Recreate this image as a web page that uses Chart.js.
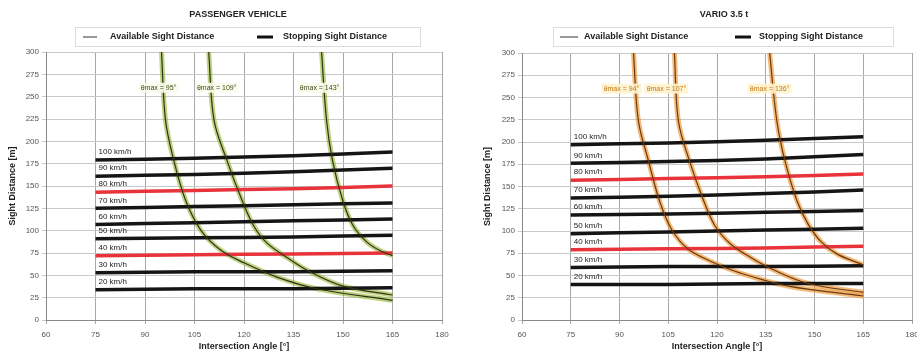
<!DOCTYPE html>
<html>
<head>
<meta charset="utf-8">
<script src="https://cdn.jsdelivr.net/npm/chart.js@4.4.0/dist/chart.umd.min.js"></script>
<style>
  html, body { margin: 0; padding: 0; background: #fff; overflow: hidden; width: 917px; height: 355px; }
  #w1 { position: absolute; left: 0; top: 0; width: 458px; height: 355px; }
  #w2 { position: absolute; left: 458px; top: 0; width: 470px; height: 355px; }
</style>
</head>
<body>
<div id="w1"><canvas id="c1"></canvas></div>
<div id="w2"><canvas id="c2"></canvas></div>
<script>
// ---- data ----
const angleMin = 60, angleMax = 180, angleStep = 15;
const distMin = 0, distMax = 300, distStep = 25;

const speedLabels = ['100 km/h', '90 km/h', '80 km/h', '70 km/h', '60 km/h', '50 km/h', '40 km/h', '30 km/h', '20 km/h'];
const redSpeeds = ['80 km/h', '40 km/h'];
const ssdAngles = [75, 105, 135, 165];

// passenger vehicle: stopping sight distance per speed (m) at ssdAngles
const pvStopping = [
  [179, 181, 184, 188],
  [161, 163, 166, 170],
  [143, 145, 147, 150],
  [125, 127, 129, 131],
  [107, 109, 111, 113],
  [91, 92, 93, 95],
  [72, 73, 74, 75],
  [53, 54, 54, 55],
  [34, 35, 35, 36]
];
// passenger vehicle: available sight distance curves
const pvAvailAngles = [
  [95, 96.2, 98.7, 102.3, 107, 113, 120, 130, 142, 165],
  [109.3, 110.9, 114.8, 119.4, 123, 127, 133, 140, 150, 165],
  [143.5, 145, 146.8, 149.9, 153, 157, 161, 165]
];
const pvAvail = [
  [300, 224, 179, 134, 100, 78, 64, 48, 35, 22],
  [300, 224, 179, 134, 105, 86, 70, 54, 38, 28],
  [300, 224, 179, 134, 106, 88, 78, 72]
];
const pvAvailLabels = ['θmax = 95°', 'θmax = 109°', 'θmax = 143°'];

// Vario 3.5 t: stopping sight distance
const trStopping = [
  [197, 199, 202, 206],
  [176, 178, 181, 186],
  [157, 159, 161, 164],
  [137, 139, 142, 146],
  [118, 119, 121, 123],
  [97, 99, 101, 103],
  [79, 80, 81, 83],
  [59, 60, 60, 61],
  [40, 40, 41, 41]
];
const trAvailAngles = [
  [94.3, 95.8, 98.9, 102.3, 106, 111, 118, 127, 142, 165],
  [106.9, 108.1, 111.5, 115.9, 119.5, 124, 130, 137, 148, 165],
  [136.2, 138.4, 140.9, 144.6, 148, 152, 157, 165]
];
const trAvail = [
  [300, 224, 179, 134, 102, 80, 66, 53, 38, 27],
  [300, 224, 179, 134, 105, 86, 71, 57, 41, 31],
  [300, 224, 179, 134, 108, 88, 74, 62]
];
const trAvailLabels = ['θmax = 94°', 'θmax = 107°', 'θmax = 136°'];
const availLabelDist = 260;

const FONT = '"Liberation Sans", Arial, sans-serif';

// title + legend header
const headerPlugin = {
  id: 'header',
  afterDraw(chart, args, o) {
    const ctx = chart.ctx;
    ctx.save();
    ctx.font = 'bold 9px ' + FONT;
    ctx.fillStyle = '#222';
    ctx.textBaseline = 'middle';
    ctx.textAlign = 'center';
    ctx.fillText(o.title, o.titleX, 15);
    ctx.strokeStyle = '#dcdcdc';
    ctx.lineWidth = 1;
    ctx.strokeRect(o.boxX + 0.5, 27.5, o.boxW, 19);
    ctx.textAlign = 'left';
    o.items.forEach(it => {
      ctx.strokeStyle = it.color;
      ctx.lineWidth = it.width;
      ctx.beginPath();
      ctx.moveTo(it.x, 37);
      ctx.lineTo(it.x + it.len, 37);
      ctx.stroke();
      ctx.fillText(it.text, it.tx, 37);
    });
    ctx.restore();
  }
};

// speed labels + angle labels
const markLabels = {
  id: 'markLabels',
  afterDatasetsDraw(chart, args, o) {
    const { ctx, scales: { x, y } } = chart;
    ctx.save();
    ctx.font = '8px ' + FONT;
    ctx.textBaseline = 'middle';
    chart.data.datasets.forEach((ds, i) => {
      if (ds.kind !== 'ssd') return;
      const p = chart.getDatasetMeta(i).data[0];
      ctx.fillStyle = '#222';
      ctx.textAlign = 'left';
      ctx.fillText(ds.label, p.x + 3, p.y - 8);
    });
    ctx.font = '7px ' + FONT;
    o.labels.forEach((t, i) => {
      const px = x.getPixelForValue(o.angles[i][0]) + o.shift[i];
      const py = y.getPixelForValue(availLabelDist);
      const w = ctx.measureText(t).width + 4;
      ctx.fillStyle = o.bg;
      ctx.fillRect(px - w / 2, py - 5, w, 10);
      ctx.fillStyle = o.color;
      ctx.textAlign = 'center';
      ctx.fillText(t, px, py);
    });
    ctx.restore();
  }
};

function makeChart(id, cfg) {
  const datasets = [];
  cfg.stopping.forEach((row, i) => {
    datasets.push({
      kind: 'ssd',
      label: speedLabels[i],
      data: ssdAngles.map((a, j) => ({ x: a, y: row[j] })),
      borderColor: redSpeeds.includes(speedLabels[i]) ? '#e8333b' : '#151515',
      borderWidth: 3.5,
      pointRadius: 0,
      tension: 0.3,
      order: 2
    });
  });
  cfg.availAngles.forEach((angles, i) => {
    const pts = angles.map((a, j) => ({ x: a, y: cfg.avail[i][j] }));
    datasets.push({
      kind: 'halo', label: 'Available Sight Distance', data: pts,
      borderColor: cfg.halo, borderWidth: 5, pointRadius: 0,
      tension: 0.35, order: 3
    });
    datasets.push({
      kind: 'asd', label: 'Available Sight Distance', data: pts,
      borderColor: cfg.core, borderWidth: 1.2, pointRadius: 0,
      tension: 0.35, order: 1
    });
  });

  return new Chart(document.getElementById(id), {
    type: 'line',
    data: { datasets },
    plugins: [headerPlugin, markLabels],
    options: {
      responsive: true,
      maintainAspectRatio: false,
      animation: false,
      layout: { padding: { top: cfg.top, right: 16, left: 0, bottom: 0 } },
      plugins: {
        legend: { display: false },
        tooltip: { enabled: false },
        header: cfg.header,
        markLabels: { labels: cfg.availLabels, angles: cfg.availAngles, shift: cfg.labelShift, color: cfg.labelColor, bg: cfg.labelBg }
      },
      scales: {
        x: {
          type: 'linear', min: angleMin, max: angleMax,
          afterFit: s => { s.height = 35; },
          ticks: { stepSize: angleStep, font: { size: 8, family: FONT }, color: '#555', padding: 6, maxRotation: 0 },
          grid: { color: '#a8a8a8', tickLength: 4 },
          border: { color: '#888' },
          title: { display: true, text: 'Intersection Angle [°]', font: { size: 9, weight: 'bold', family: FONT }, color: '#222', padding: { top: 0, bottom: 3 } }
        },
        y: {
          min: distMin, max: distMax,
          afterFit: s => { s.width = cfg.yWidth; },
          ticks: { stepSize: distStep, font: { size: 8, family: FONT }, color: '#555', padding: 3 },
          grid: { color: '#c8c8c8', tickLength: 4 },
          border: { color: '#888' },
          title: { display: true, text: 'Sight Distance [m]', font: { size: 9, weight: 'bold', family: FONT }, color: '#222', padding: { top: cfg.yTitlePad, bottom: 0 } }
        }
      }
    }
  });
}

makeChart('c1', {
  stopping: pvStopping, availAngles: pvAvailAngles, avail: pvAvail, availLabels: pvAvailLabels,
  halo: 'rgba(150,180,50,0.6)', core: '#2b3514', labelColor: '#3a4a18', labelBg: 'rgba(250,252,235,0.9)',
  labelShift: [-3, 8, -2],
  top: 52, yWidth: 46, yTitlePad: 7,
  header: {
    title: 'PASSENGER VEHICLE', titleX: 238, boxX: 75, boxW: 345,
    items: [
      { x: 83, len: 14, color: '#555', width: 1.2, text: 'Available Sight Distance', tx: 110 },
      { x: 257, len: 16, color: '#111', width: 3, text: 'Stopping Sight Distance', tx: 283 }
    ]
  }
});

makeChart('c2', {
  stopping: trStopping, availAngles: trAvailAngles, avail: trAvail, availLabels: trAvailLabels,
  halo: 'rgba(240,150,50,0.65)', core: '#6a3a12', labelColor: '#c07a18', labelBg: 'rgba(255,243,205,0.9)',
  labelShift: [-12, -8, 0],
  top: 53, yWidth: 64, yTitlePad: 24,
  header: {
    title: 'VARIO 3.5 t', titleX: 266, boxX: 95, boxW: 340,
    items: [
      { x: 102, len: 18, color: '#555', width: 1.2, text: 'Available Sight Distance', tx: 126 },
      { x: 277, len: 16, color: '#111', width: 3, text: 'Stopping Sight Distance', tx: 301 }
    ]
  }
});
</script>
</body>
</html>
